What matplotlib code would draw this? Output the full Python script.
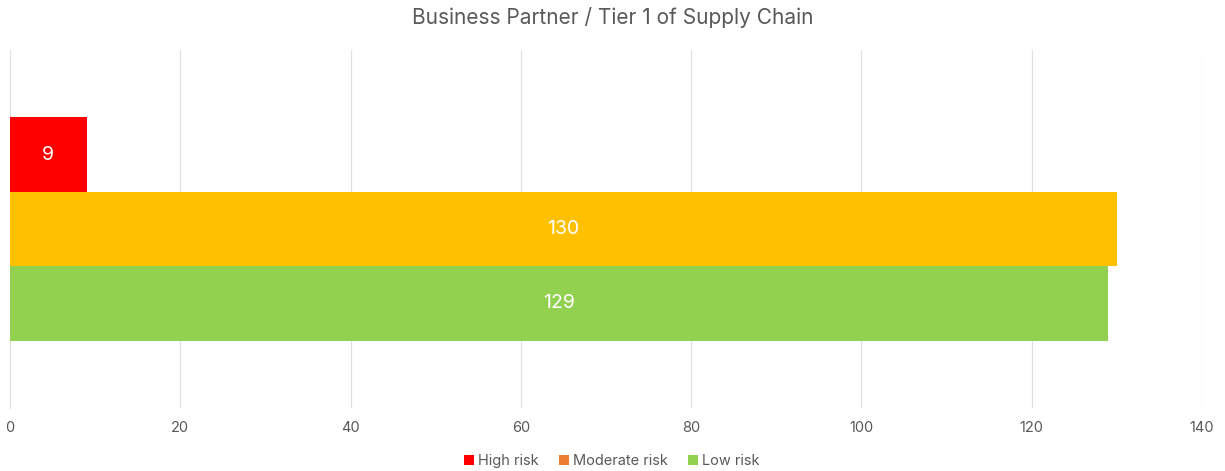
import matplotlib
matplotlib.use("Agg")
import matplotlib.pyplot as plt
from matplotlib.patches import Patch

plt.rcParams['font.family'] = ['Inter', 'DejaVu Sans']

title = "Business Partner / Tier 1 of Supply Chain"
series = ["High risk", "Moderate risk", "Low risk"]
values = [9, 130, 129]
bar_colors = ["#FF0000", "#FFC000", "#92D050"]
legend_colors = ["#FF0000", "#ED7D31", "#92D050"]
xticks = [0, 20, 40, 60, 80, 100, 120, 140]

fig = plt.figure(figsize=(12.25, 4.71), dpi=100)
ax = fig.add_axes([10/1225, 1-408/471, (1202-10)/1225, (408-50)/471])

h = 0.208
offsets = [h, 0, -h]
for v, c, o in zip(values, bar_colors, offsets):
    ax.barh(o, v, height=h, color=c, zorder=3)
    ax.text(v/2, o, str(v), ha='center', va='center', color='white', fontsize=14, zorder=4)

ax.set_xlim(0, 140)
ax.set_ylim(-0.5, 0.5)
ax.set_xticks(xticks)
ax.set_xticklabels([str(t) for t in xticks])
ax.set_yticks([])
ax.grid(axis='x', color='#E0E0E0', linewidth=0.9, zorder=0)
for s in ['top', 'right', 'bottom']:
    ax.spines[s].set_visible(False)
ax.spines['left'].set_color('#E0E0E0')
ax.tick_params(axis='x', length=0, pad=9, labelsize=10.5, labelcolor='#595959')

fig.text(0.5, 1-17/471, title, ha='center', va='center', fontsize=15, color='#595959')

handles = [Patch(facecolor=c, label=s) for s, c in zip(series, legend_colors)]
fig.legend(handles=handles, loc='center', bbox_to_anchor=(612/1225, 1-461/471), ncol=3,
           frameon=False, fontsize=10.5, labelcolor='#595959', handlelength=0.65, handleheight=0.65,
           handletextpad=0.3, columnspacing=1.4)

fig.savefig("out.png", dpi=100)
